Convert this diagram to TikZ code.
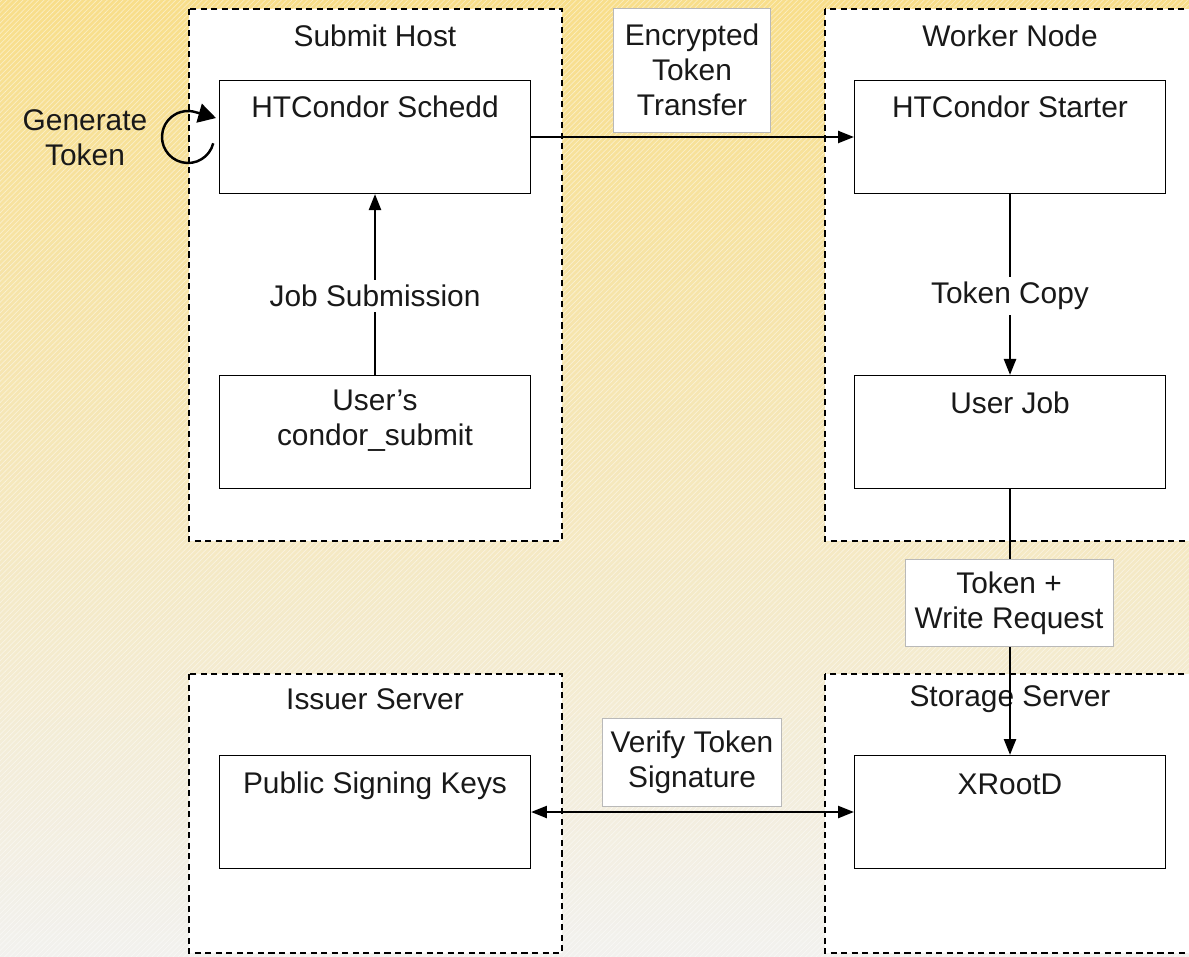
\documentclass[tikz,border=0pt]{standalone}
\usepackage{fontspec}
\setmainfont{Liberation Sans}
\usetikzlibrary{arrows.meta,patterns}

\definecolor{bgyellow}{RGB}{248,222,138}
\definecolor{bgmid}{RGB}{246,236,202}
\definecolor{bggrey}{RGB}{242,241,238}
\definecolor{lblgrey}{RGB}{185,185,185}
\definecolor{inkgrey}{RGB}{25,25,25}

\tikzset{
	host/.style={draw, fill=white, line width=0.7pt, dash pattern=on 3.5pt off 2.5pt},
	comp/.style={draw, fill=white, line width=0.8pt, minimum width=6.22cm, minimum height=2.26cm, inner sep=0pt},
	lbl/.style={draw=lblgrey, fill=white, line width=0.5pt, align=center, inner sep=0pt},
	txt/.style={align=center, inner sep=0pt},
	flow/.style={-{Triangle[length=9pt,width=7pt]}, line width=0.8pt},
}

\begin{document}
\begin{tikzpicture}[x=0.02cm, y=-0.02cm, every node/.style={font=\fontsize{17}{20}\selectfont, text=inkgrey}]
		\useasboundingbox (0,0) rectangle (1189,956);
		% background
		\fill[top color=bgyellow, middle color=bgmid, bottom color=bggrey] (0,0) rectangle (1189,956);
		\fill[pattern=north east lines, pattern color=white, opacity=0.45] (0,0) rectangle (1189,956);

		% hosts
		\draw[host] (189,9) rectangle (562,541);
		\node[txt] (submithost) at (375,36) {Submit Host};
		\draw[host] (825,9) rectangle (1200,541);
		\node[txt] (workernode) at (1010,36) {Worker Node};
		\draw[host] (189,674) rectangle (562,953);
		\node[txt] (issuer) at (375,699) {Issuer Server};
		\draw[host] (825,674) rectangle (1200,953);
		\node[txt] (storage) at (1010,699) {Storage Server};

		% components
		\node[comp] (schedd) at (375,137) {};
		\node[txt] (scheddtxt) at (375,107) {HTCondor Schedd};
		\node[comp] (submit) at (375,432) {};
		\node[txt] (submittxt) at (375,421) {User’s\\condor\_submit};
		\node[comp] (starter) at (1010,137) {};
		\node[txt] (startertxt) at (1010,107) {HTCondor Starter};
		\node[comp] (userjob) at (1010,432) {};
		\node[txt] (userjobtxt) at (1010,403) {User Job};
		\node[comp] (keys) at (375,812) {};
		\node[txt] (keystxt) at (375,786) {Public Signing Keys};
		\node[comp] (xrootd) at (1010,812) {};
		\node[txt] (xrootdtxt) at (1010,784) {XRootD};

		% connectors
		\draw[flow] (submit) -- (schedd);
		\draw[flow] (schedd) -- (starter);
		\draw[flow] (starter) -- (userjob);
		\draw[flow] (userjob) -- (xrootd);
		\draw[flow, {Triangle[length=9pt,width=7pt]}-{Triangle[length=9pt,width=7pt]}] (keys) -- (xrootd);

		% token generation loop
		\coordinate (gen) at (188,137);
		\coordinate (gentip) at (216,118);
		\draw[line width=1.4pt] (gen) ++(-14:0.52cm) arc[start angle=-14, end angle=-288, radius=0.52cm];
		\draw[line width=1.4pt, -{Triangle[length=10pt,width=11pt]}] (gen) ++(72:0.52cm) -- (gentip);
		\node[txt] (gentxt) at (85,138) {Generate\\Token};

		% labels
		\node[txt, fill=white, inner sep=3pt] (jobsub) at (375,296) {Job Submission};
		\node[txt, fill=white, inner sep=3pt] (tokcopy) at (1010,296) {Token Copy};
		\node[lbl, minimum width=3.14cm, minimum height=2.48cm] (enc) at (692,70) {Encrypted\\Token\\Transfer};
		\node[lbl, minimum width=4.16cm, minimum height=1.74cm] (writereq) at (1009,603) {Token +\\Write Request};
		\node[lbl, minimum width=3.58cm, minimum height=1.76cm] (verify) at (692,762) {Verify Token\\Signature};
	\end{tikzpicture}
\end{document}
